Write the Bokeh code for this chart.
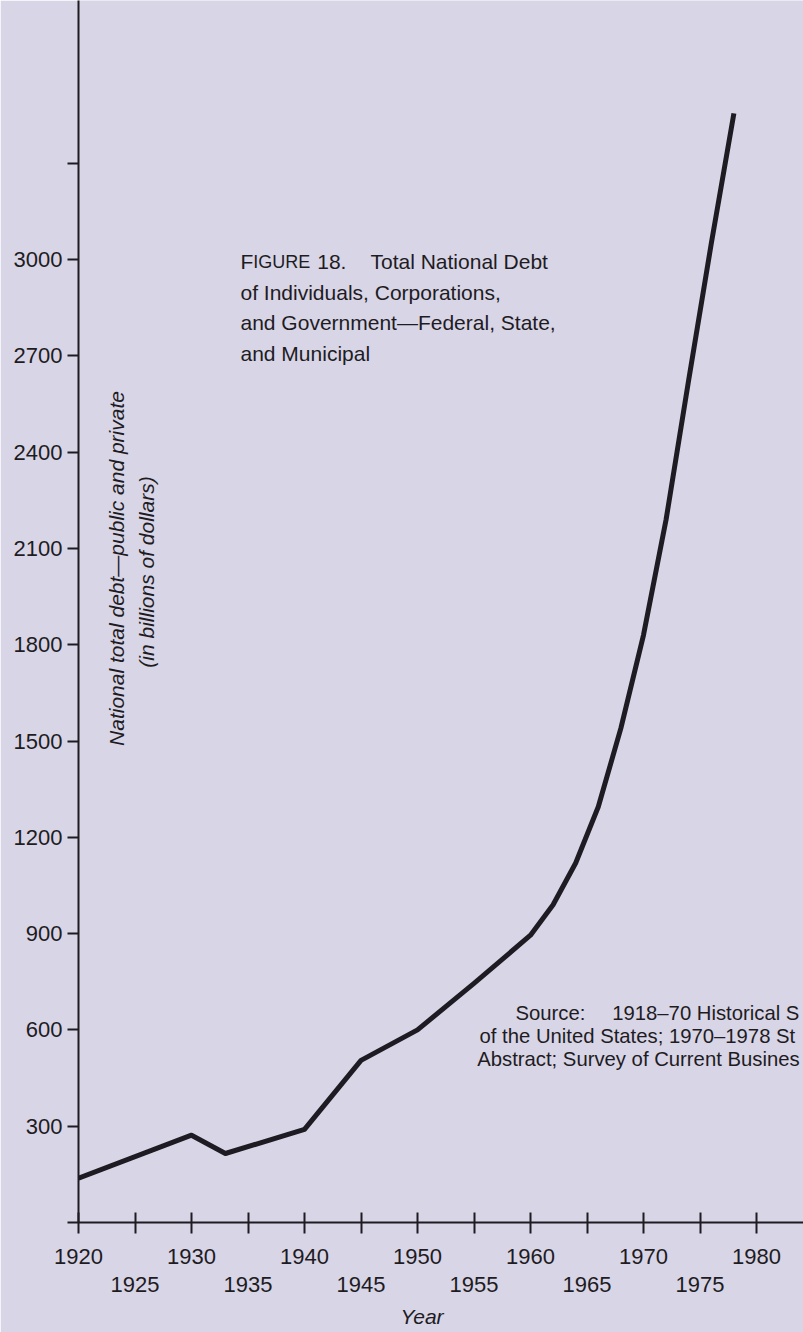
import math
from bokeh.plotting import figure
from bokeh.models import Range1d, FixedTicker, LinearAxis, Label
from bokeh.embed import file_html
from bokeh.resources import INLINE

# ---- data ----
years = [1920, 1930, 1933, 1940, 1945, 1950, 1955, 1960, 1962, 1964, 1966,
         1968, 1970, 1972, 1974, 1976, 1978]
debt = [138, 272, 215, 290, 505, 600, 745, 895, 990, 1120, 1295,
        1540, 1830, 2190, 2625, 3050, 3455]

x_ticks = [1920, 1925, 1930, 1935, 1940, 1945, 1950, 1955, 1960, 1965, 1970, 1975, 1980]
x_labels_row1 = [1920, 1930, 1940, 1950, 1960, 1970, 1980]
x_labels_row2 = [1925, 1935, 1945, 1955, 1965, 1975]
y_ticks = [0, 300, 600, 900, 1200, 1500, 1800, 2100, 2400, 2700, 3000, 3300]
y_labeled = [300, 600, 900, 1200, 1500, 1800, 2100, 2400, 2700, 3000]

title_first = "F"
title_caps = "IGURE"
title_num = "18."
title_rest = "Total National Debt"
title_lines = ["of Individuals, Corporations,",
               "and Government\u2014Federal, State,",
               "and Municipal"]
y_label_lines = ["National total debt\u2014public and private",
                 "(in billions of dollars)"]
source_head = "Source:"
# the note runs to the right edge of the page; only the visible part is kept
source_lines = ["1918\u201370 Historical S",
                "of the United States; 1970\u20131978 St",
                "Abstract; Survey of Current Busines"]
x_title = "Year"

# ---- layout ----
W, H = 803, 1332
LEFT = 78
AXIS_Y = 1222
BOTTOM = H - AXIS_Y
PX_YEAR = 11.3
PX_UNIT = 0.321
frame_w = W - LEFT
frame_h = AXIS_Y

BG = "#d8d5e7"
INK = "#1e1c22"
FONT = "Liberation Sans"
TICK_FS = "22px"


def dx(px):
    return 1920 + (px - LEFT) / PX_YEAR


def dy(py):
    return (AXIS_Y - py) / PX_UNIT


p = figure(width=W, height=H, output_backend="svg", toolbar_location=None,
           x_range=Range1d(1920, 1920 + frame_w / PX_YEAR),
           y_range=Range1d(0, frame_h / PX_UNIT),
           min_border_left=LEFT, min_border_right=0, min_border_top=0,
           min_border_bottom=BOTTOM)
p.background_fill_color = BG
p.border_fill_color = BG
p.outline_line_color = None
p.xgrid.visible = False
p.ygrid.visible = False

# y axis
ya = p.yaxis[0]
ya.ticker = FixedTicker(ticks=y_ticks)
ya.major_label_overrides = {t: (str(t) if t in y_labeled else "") for t in y_ticks}
ya.major_tick_in = 0
ya.major_tick_out = 11
ya.minor_tick_line_color = None
ya.major_label_standoff = 5
ya.axis_line_width = 2
ya.axis_line_color = INK
ya.major_tick_line_width = 2
ya.major_tick_line_color = INK
ya.major_label_text_font = FONT
ya.major_label_text_font_size = TICK_FS
ya.major_label_text_color = INK

# x axis, first row
xa = p.xaxis[0]
xa.ticker = FixedTicker(ticks=x_ticks)
xa.major_label_overrides = {t: (str(t) if t in x_labels_row1 else "") for t in x_ticks}
xa.major_tick_in = 10
xa.major_tick_out = 11
xa.minor_tick_line_color = None
xa.major_label_standoff = 15
xa.axis_line_width = 2
xa.axis_line_color = INK
xa.major_tick_line_width = 2
xa.major_tick_line_color = INK
xa.major_label_text_font = FONT
xa.major_label_text_font_size = TICK_FS
xa.major_label_text_color = INK


def label_row(ticks, labels, standoff, size, style="normal"):
    ax = LinearAxis(ticker=FixedTicker(ticks=ticks))
    ax.major_label_overrides = dict(zip(ticks, labels))
    ax.axis_line_color = None
    ax.major_tick_line_color = None
    ax.minor_tick_line_color = None
    ax.major_tick_in = 0
    ax.major_tick_out = 0
    ax.major_label_standoff = standoff
    ax.major_label_text_font = FONT
    ax.major_label_text_font_size = size
    ax.major_label_text_font_style = style
    ax.major_label_text_color = INK
    p.add_layout(ax, "below")
    return ax


# x axis, second row of labels
label_row(x_labels_row2, [str(t) for t in x_labels_row2], 10, TICK_FS)
# x axis title, placed where the reference has it
year_pos = round(dx(421.5), 2)
label_row([year_pos], [x_title], 10, "21px", "italic")

# data line
p.line(years, debt, line_width=5, line_color=INK, line_join="round")

# title block
tx = dx(240)
for txt, off, size in [(title_first, 0, "21px"), (title_caps, 12.8, "18px"),
                       (title_num, 76.7, "21px"), (title_rest, 130, "21px")]:
    p.add_layout(Label(x=tx, y=dy(261), x_offset=off, text=txt,
                       text_font=FONT, text_font_size=size, text_color=INK,
                       text_align="left", text_baseline="alphabetic"))
for i, txt in enumerate(title_lines):
    p.add_layout(Label(x=tx, y=dy(291.5 + 30.5 * i), text=txt,
                       text_font=FONT, text_font_size="21px", text_color=INK,
                       text_align="left", text_baseline="alphabetic"))

# rotated y label inside plot
for txt, rx, ry in zip(y_label_lines, [116, 146], [568, 571.5]):
    p.add_layout(Label(x=dx(rx), y=dy(ry), text=txt, angle=math.pi / 2,
                       text_font=FONT, text_font_size="21px", text_color=INK,
                       text_font_style="italic",
                       text_align="center", text_baseline="middle"))

# source note
src_pos = [(611.7, 1012), (479, 1035.5), (476.7, 1058.5)]
p.add_layout(Label(x=dx(515), y=dy(1012), text=source_head,
                   text_font=FONT, text_font_size="20.3px", text_color=INK,
                   text_align="left", text_baseline="alphabetic"))
for txt, (rx, ry) in zip(source_lines, src_pos):
    p.add_layout(Label(x=dx(rx), y=dy(ry), text=txt,
                       text_font=FONT, text_font_size="20.3px", text_color=INK,
                       text_align="left", text_baseline="alphabetic"))

open("out.html", "w").write(file_html(p, INLINE))
